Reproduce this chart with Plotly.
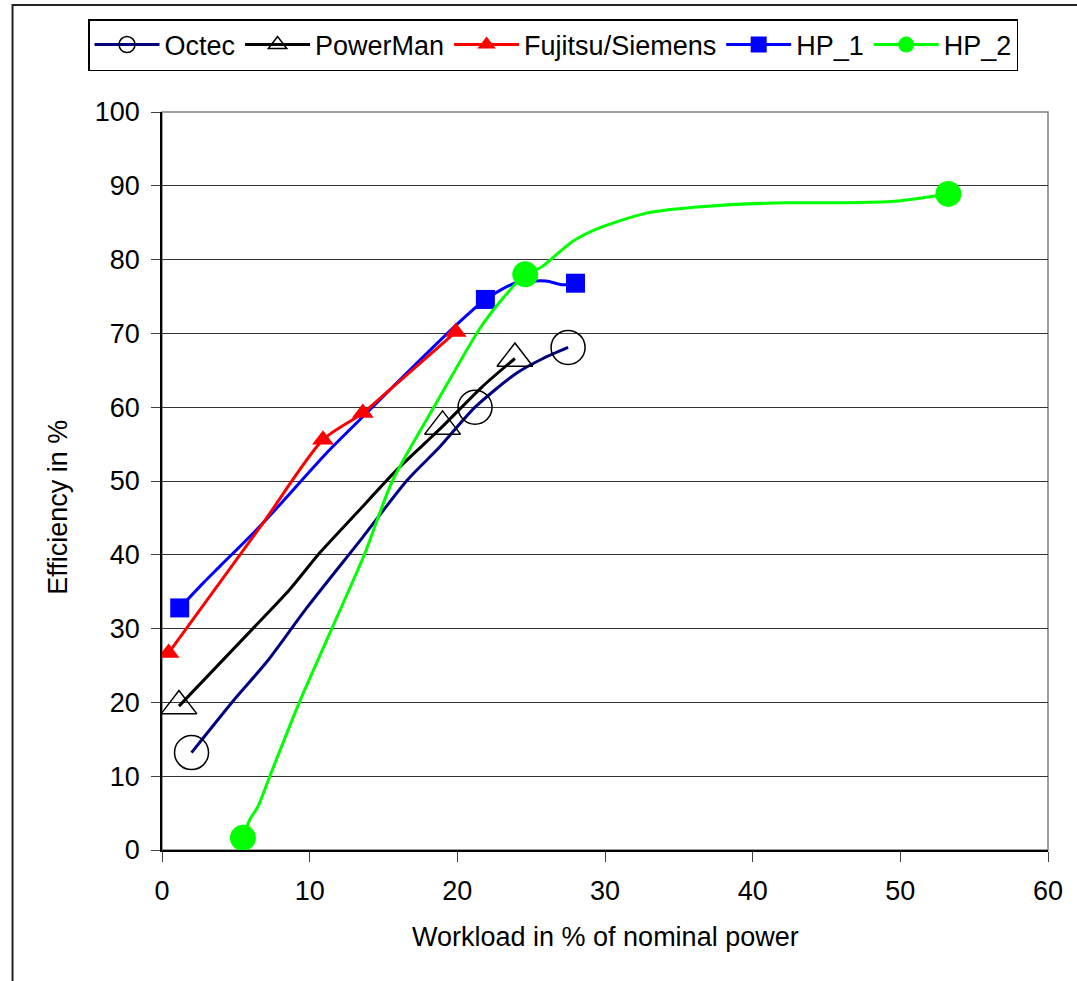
import plotly.graph_objects as go

# ---------------- data ----------------
series_names = ["Octec", "PowerMan", "Fujitsu/Siemens", "HP_1", "HP_2"]

octec_line_x = [2.0, 4.9, 7.1, 9.8, 13.6, 16.6, 18.8, 21.2, 24.0, 25.8, 27.5]
octec_line_y = [13.2, 20.4, 25.5, 32.8, 42.4, 50.1, 54.6, 60.0, 64.6, 66.6, 68.1]
octec_pts_x = [2.0, 21.2, 27.5]
octec_pts_y = [13.2, 60.0, 68.1]

powerman_line_x = [1.15, 6.2, 8.65, 10.7, 13.2, 15.9, 17.9, 19.0, 21.7, 23.9]
powerman_line_y = [19.5, 30.1, 35.3, 40.3, 45.7, 51.5, 55.3, 57.4, 62.8, 66.6]
powerman_pts_x = [1.15, 19.0, 23.9]
powerman_pts_y = [19.5, 57.4, 66.6]

fujitsu_line_x = [0.45, 6.84, 10.9, 13.6, 15.9, 19.9]
fujitsu_line_y = [26.7, 44.3, 55.6, 59.2, 63.2, 70.2]
fujitsu_pts_x = [0.45, 10.9, 13.6, 19.9]
fujitsu_pts_y = [26.7, 55.6, 59.2, 70.2]

hp1_line_x = [1.2, 2.8, 4.0, 6.84, 11.1, 13.6, 16.3, 19.9, 21.9, 23.9, 26.0, 27.1, 28.0]
hp1_line_y = [32.8, 36.2, 38.6, 44.3, 53.7, 58.7, 64.1, 71.1, 74.6, 76.8, 77.1, 76.6, 76.8]
hp1_pts_x = [1.2, 21.9, 28.0]
hp1_pts_y = [32.8, 74.6, 76.8]

hp2_line_x = [5.48, 5.94, 6.5, 7.3, 9.3, 11.5, 13.7, 15.6, 18.7, 21.5, 23.1, 24.6, 25.7,
              27.75, 29.5, 32.8, 36.7, 42.3, 45.8, 49.6, 53.25]
hp2_line_y = [1.65, 4.1, 5.9, 10.0, 20.0, 30.0, 40.0, 50.0, 61.0, 70.6, 74.8, 78.0, 79.0,
              82.4, 84.2, 86.3, 87.2, 87.7, 87.7, 87.9, 88.9]
hp2_pts_x = [5.48, 24.6, 53.25]
hp2_pts_y = [1.65, 78.0, 88.9]

x_ticks = [0, 10, 20, 30, 40, 50, 60]
y_ticks = [0, 10, 20, 30, 40, 50, 60, 70, 80, 90, 100]

# ---------------- styles ----------------
FONT = "Arial, Liberation Sans, sans-serif"
FS = 27
styles = {
    "Octec": dict(color="#000080", symbol="circle-open", size=34, mcolor="#000000", mline=1.5),
    "PowerMan": dict(color="#000000", symbol="triangle-up-open", size=31, mcolor="#000000", mline=1.5),
    "Fujitsu/Siemens": dict(color="#FF0000", symbol="triangle-up", size=19, mcolor="#FF0000", mline=0),
    "HP_1": dict(color="#0000FF", symbol="square", size=19, mcolor="#0000FF", mline=0),
    "HP_2": dict(color="#00FF00", symbol="circle", size=26, mcolor="#00FF00", mline=0),
}
data = {
    "Octec": (octec_line_x, octec_line_y, octec_pts_x, octec_pts_y),
    "PowerMan": (powerman_line_x, powerman_line_y, powerman_pts_x, powerman_pts_y),
    "Fujitsu/Siemens": (fujitsu_line_x, fujitsu_line_y, fujitsu_pts_x, fujitsu_pts_y),
    "HP_1": (hp1_line_x, hp1_line_y, hp1_pts_x, hp1_pts_y),
    "HP_2": (hp2_line_x, hp2_line_y, hp2_pts_x, hp2_pts_y),
}
draw_order = ["Octec", "PowerMan", "HP_1", "Fujitsu/Siemens", "HP_2"]

fig = go.Figure()

for name in draw_order:
    lx, ly, px, py = data[name]
    st = styles[name]
    fig.add_trace(go.Scatter(
        x=lx, y=ly, mode="lines", showlegend=False, hoverinfo="skip",
        line=dict(color=st["color"], width=3, shape="spline", smoothing=0.7),
    ))
    fig.add_trace(go.Scatter(
        x=px, y=py, mode="markers", showlegend=False,
        marker=dict(symbol=st["symbol"], size=st["size"], color=st["mcolor"],
                    line=dict(color=st["mcolor"], width=st["mline"])),
    ))

# legend entries
for name in series_names:
    st = styles[name]
    fig.add_trace(go.Scatter(
        x=[None], y=[None], mode="lines+markers", name=name,
        line=dict(color=st["color"], width=3),
        marker=dict(symbol=st["symbol"], size=16, color=st["mcolor"],
                    line=dict(color=st["mcolor"], width=st["mline"])),
    ))

fig.update_layout(
    width=1077, height=981,
    margin=dict(l=162, r=29, t=112, b=131),
    paper_bgcolor="white", plot_bgcolor="white",
    font=dict(family=FONT, size=FS, color="#000000"),
    showlegend=True,
    legend=dict(
        orientation="h", x=-0.0835, y=1.126, xanchor="left", yanchor="top",
        bgcolor="white", bordercolor="#000000", borderwidth=1.5,
        font=dict(family=FONT, size=FS), traceorder="normal", itemwidth=65,
    ),
    xaxis=dict(
        range=[0, 60], tickvals=x_ticks, ticktext=[str(v) for v in x_ticks],
        showgrid=False, zeroline=False, showline=True, linecolor="#000000", linewidth=1.5,
        ticks="outside", ticklen=10, tickcolor="#404040", tickwidth=1,
        tickfont=dict(family=FONT, size=FS), ticklabelstandoff=6,
    ),
    yaxis=dict(
        range=[0, 100], tickvals=y_ticks, ticktext=[str(v) for v in y_ticks],
        showgrid=True, gridcolor="#333333", gridwidth=1, zeroline=False,
        showline=True, linecolor="#000000", linewidth=1.5,
        ticks="outside", ticklen=9, tickcolor="#404040", tickwidth=1,
        tickfont=dict(family=FONT, size=FS), ticklabelstandoff=6,
    ),
    shapes=[
        dict(type="rect", xref="paper", yref="paper", x0=0, x1=1, y0=0, y1=1,
             line=dict(color="#808080", width=1.5), layer="below"),
        dict(type="rect", xref="paper", yref="paper", x0=-0.1687, x1=1.06, y0=-0.2, y1=1.145,
             line=dict(color="#222222", width=2), layer="below"),
    ],
    annotations=[
        dict(text="Workload in % of nominal power", xref="paper", yref="paper",
             x=0.5, y=-0.118, xanchor="center", yanchor="middle", showarrow=False,
             font=dict(family=FONT, size=FS)),
        dict(text="Efficiency in %", xref="paper", yref="paper",
             x=-0.1174, y=0.465, xanchor="center", yanchor="middle", showarrow=False,
             textangle=-90, font=dict(family=FONT, size=FS)),
    ],
)

fig.write_html("out.html")
